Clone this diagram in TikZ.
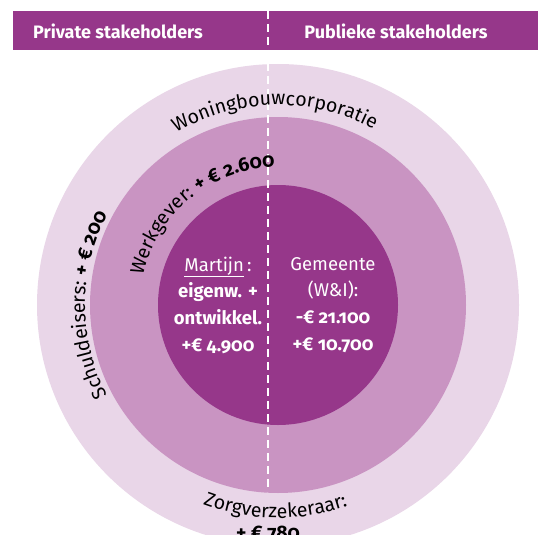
\documentclass[tikz,border=0pt]{standalone}
\usepackage{fontspec}
\setmainfont{Fira Sans}[Numbers=OldStyle]
\usetikzlibrary{decorations.text,calc}
\definecolor{paars}{RGB}{150,55,138}
\definecolor{midpaars}{RGB}{201,148,194}
\definecolor{lichtpaars}{RGB}{233,214,232}
\def\boogfont{\fontsize{19.5}{22}\selectfont}
\tikzstyle{kop}=[text=white,font=\fontsize{18}{21}\selectfont\bfseries]
\tikzstyle{binnen}=[text=white,align=center,font=\fontsize{18.5}{26.7}\selectfont]
\tikzstyle{boog}=[decorate,decoration={text along path,text align=center}]

\begin{document}
\begin{tikzpicture}[x=1pt,y=1pt]
\useasboundingbox (0,0) rectangle (538,-535);
\coordinate (c) at (278,-305);
% ringen
\fill[lichtpaars] (c) circle (241);
\fill[midpaars] (c) circle (188);
\fill[paars] (c) circle (120);
\fill[paars] (13,-11) rectangle (538,-50);
\coordinate (top) at (268,-11);
\coordinate (bottom) at (268,-492);
\draw[white,line width=1.2pt,dash pattern=on 8pt off 5pt] (top) -- (bottom);
\node[kop] (private) at (118,-31) {Private stakeholders};
\node[kop] (publiek) at (396,-31) {Publieke stakeholders};
\node[binnen] (martijn) at (218,-305) {\underline{Martijn}\,:\\ \textbf{eigenw. +}\\
  \textbf{ontwikkel.}\\ \textbf{+€ 4.900}};
\node[binnen] (gemeente) at (333,-305) {Gemeente\\ (W\&I):\\ \textbf{-€ 21.100}\\
  \textbf{+€ 10.700}};
\path[boog,decoration={text={|\boogfont|Woningbouwcorporatie}}]
  ($(c)+(155:200)$) arc[start angle=155,end angle=27,radius=200];
\path[boog,decoration={text={|\boogfont|Schuldeisers: |\boogfont\bfseries|+ € 200}}]
  ($(c)+(215:193)$) arc[start angle=215,end angle=145,radius=193];
\path[boog,decoration={text={|\boogfont|Werkgever: |\boogfont\bfseries|+ € 2.600}}]
  ($(c)+(180:138)$) arc[start angle=180,end angle=79,radius=138];
\path[boog,decoration={text={|\boogfont|Zorgverzekeraar:}}]
  ($(c)+(234:213)$) arc[start angle=234,end angle=304.5,radius=213];
\node[font=\boogfont\bfseries,anchor=base] (zorg) at (268,-539) {+ € 780};
\end{tikzpicture}
\end{document}
